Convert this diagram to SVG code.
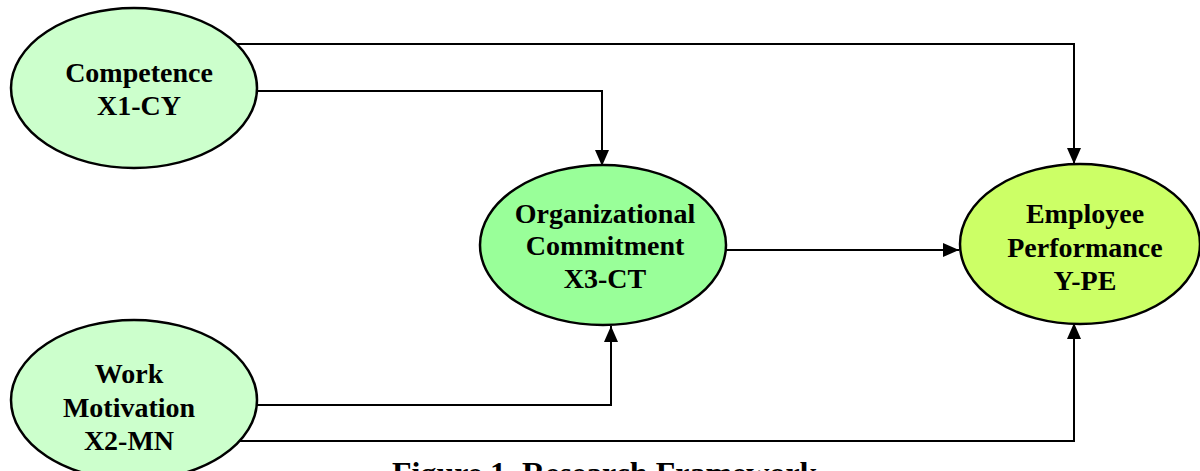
<svg xmlns="http://www.w3.org/2000/svg" width="1200" height="471" viewBox="0 0 1200 471">
<style>
.node ellipse{stroke:#000;stroke-width:2.5}
.lbl{font-family:"Liberation Serif","Times New Roman",serif;font-weight:bold;font-size:28px;text-anchor:middle;fill:#000}
.conn path{fill:none;stroke:#000;stroke-width:2}
.cap{font-family:"Liberation Serif","Times New Roman",serif;font-weight:bold;font-size:32px;fill:#000}
</style>
<defs>
<marker id="arr" viewBox="0 0 16 14" refX="16" refY="7" markerWidth="16" markerHeight="14" markerUnits="userSpaceOnUse" orient="auto">
<path d="M0,0 L16,7 L0,14 Z" fill="#000"/>
</marker>
</defs>
<rect width="1200" height="471" fill="#fff"/>
<g class="conn">
<path d="M233,44 H1074 V164" marker-end="url(#arr)"/>
<path d="M256,91 H602 V166" marker-end="url(#arr)"/>
<path d="M725,250 H959" marker-end="url(#arr)"/>
<path d="M256,405 H611 V326" marker-end="url(#arr)"/>
<path d="M235,441 H1074 V323" marker-end="url(#arr)"/>
</g>
<g id="competence" class="node">
<ellipse cx="134" cy="88" rx="123" ry="80" fill="#ccffcc"/>
<text class="lbl" x="139" y="82">Competence</text>
<text class="lbl" x="139" y="115">X1-CY</text>
</g>
<g id="motivation" class="node">
<ellipse cx="134" cy="400" rx="123" ry="80" fill="#ccffcc"/>
<text class="lbl" x="129" y="383">Work</text>
<text class="lbl" x="129" y="417">Motivation</text>
<text class="lbl" x="129" y="450">X2-MN</text>
</g>
<g id="commitment" class="node">
<ellipse cx="603" cy="245" rx="123" ry="80" fill="#99ff99"/>
<text class="lbl" x="605" y="223">Organizational</text>
<text class="lbl" x="605" y="255">Commitment</text>
<text class="lbl" x="605" y="288">X3-CT</text>
</g>
<g id="performance" class="node">
<ellipse cx="1080" cy="244" rx="120" ry="80" fill="#ccff66"/>
<text class="lbl" x="1085" y="223">Employee</text>
<text class="lbl" x="1085" y="257">Performance</text>
<text class="lbl" x="1085" y="290">Y-PE</text>
</g>
<text class="cap" x="392" y="484">Figure 1. Research Framework</text>
</svg>
